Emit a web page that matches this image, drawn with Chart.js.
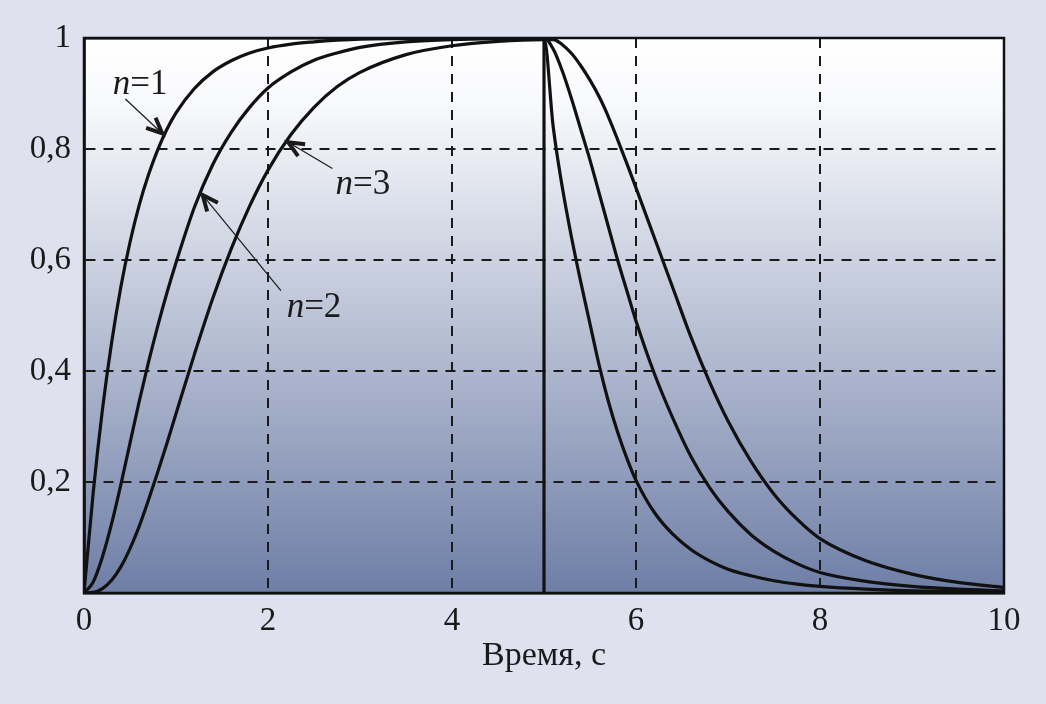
<!DOCTYPE html>
<html>
<head>
  <meta charset="UTF-8">
  <title>Время, с</title>
  <script src="https://cdn.jsdelivr.net/npm/chart.js"></script>
  <style>
    html, body {
      margin: 0;
      padding: 0;
      background: #dfe2ee;
    }
    #wrap {
      width: 1046px;
      height: 704px;
    }
  </style>
</head>
<body>
  <div id="wrap"><canvas id="graph"></canvas></div>

  <script>
    // temps (s)
    const temps = [0, 0.1, 0.2, 0.3, 0.4, 0.5, 0.6, 0.7, 0.8, 0.9, 1.0, 1.2, 1.4, 1.6, 1.8, 2.0, 2.25, 2.5, 2.75, 3.0, 3.5, 4.0, 4.5, 5.0,
                   5.1, 5.2, 5.3, 5.4, 5.5, 5.6, 5.7, 5.8, 5.9, 6.0, 6.2, 6.4, 6.6, 6.8, 7.0, 7.25, 7.5, 7.75, 8.0, 8.5, 9.0, 9.5, 10];

    // réponses
    const n1 = [0, 0.181, 0.33, 0.451, 0.551, 0.632, 0.699, 0.753, 0.798, 0.835, 0.865, 0.909, 0.939, 0.959, 0.973, 0.982, 0.989, 0.993, 0.996, 0.998, 0.999, 1, 1, 1,
                0.84, 0.73, 0.64, 0.56, 0.485, 0.41, 0.345, 0.29, 0.243, 0.203, 0.145, 0.106, 0.078, 0.058, 0.043, 0.031, 0.022, 0.016, 0.012, 0.007, 0.004, 0.003, 0.002];
    const n2 = [0, 0.02, 0.065, 0.125, 0.195, 0.27, 0.345, 0.415, 0.48, 0.54, 0.595, 0.695, 0.772, 0.83, 0.875, 0.91, 0.939, 0.96, 0.973, 0.983, 0.993, 0.997, 0.999, 1,
                0.98, 0.94, 0.89, 0.835, 0.78, 0.72, 0.66, 0.60, 0.545, 0.49, 0.395, 0.315, 0.245, 0.19, 0.147, 0.105, 0.075, 0.053, 0.037, 0.021, 0.012, 0.007, 0.004];
    const n3 = [0, 0.001, 0.008, 0.023, 0.047, 0.08, 0.12, 0.167, 0.217, 0.269, 0.323, 0.43, 0.531, 0.62, 0.697, 0.762, 0.826, 0.875, 0.912, 0.938, 0.97, 0.986, 0.994, 0.997,
                0.997, 0.988, 0.972, 0.95, 0.924, 0.894, 0.858, 0.817, 0.774, 0.73, 0.64, 0.55, 0.46, 0.38, 0.31, 0.237, 0.178, 0.133, 0.098, 0.058, 0.034, 0.019, 0.01];

    // impulsion d'entrée
    const impulsT = [0, 0, 5, 5];
    const impulsV = [0, 1, 1, 0];

    const xTicks = ['0', '2', '4', '6', '8', '10'];
    const yTicks = ['', '0,2', '0,4', '0,6', '0,8', '1'];

    const etiquettes = [
      { n: '1', tx: 0.61, ty: 0.915, de: [0.45, 0.89], vers: [0.85, 0.828] },
      { n: '2', tx: 2.5, ty: 0.513, de: [2.14, 0.545], vers: [1.29, 0.717] },
      { n: '3', tx: 3.03, ty: 0.735, de: [2.70, 0.765], vers: [2.22, 0.812] }
    ];

    const points = (xs, ys) => xs.map((x, i) => ({ x: x, y: ys[i] }));

    const fond = {
      id: 'fond',
      beforeDraw(chart) {
        const { ctx, chartArea: a } = chart;
        ctx.save();
        ctx.fillStyle = '#dfe2ee';
        ctx.fillRect(0, 0, chart.width, chart.height);
        const g = ctx.createLinearGradient(0, a.top, 0, a.bottom);
        g.addColorStop(0, '#ffffff');
        g.addColorStop(0.12, '#f8f9fc');
        g.addColorStop(1, '#6e7ea6');
        ctx.fillStyle = g;
        ctx.fillRect(a.left, a.top, a.right - a.left, a.bottom - a.top);
        ctx.restore();
      }
    };

    const cadre = {
      id: 'cadre',
      afterDraw(chart) {
        const { ctx, chartArea: a, scales } = chart;
        ctx.save();
        ctx.strokeStyle = '#111';
        ctx.lineWidth = 2.5;
        ctx.strokeRect(a.left, a.top, a.right - a.left, a.bottom - a.top);

        // flèches + n=...
        for (const e of etiquettes) {
          const x0 = scales.x.getPixelForValue(e.de[0]);
          const y0 = scales.y.getPixelForValue(e.de[1]);
          const x1 = scales.x.getPixelForValue(e.vers[0]);
          const y1 = scales.y.getPixelForValue(e.vers[1]);
          ctx.strokeStyle = '#1a1a1a';
          ctx.lineWidth = 1.2;
          ctx.beginPath();
          ctx.moveTo(x0, y0);
          ctx.lineTo(x1, y1);
          ctx.stroke();
          const ang = Math.atan2(y1 - y0, x1 - x0);
          ctx.lineWidth = 4;
          ctx.lineCap = 'butt';
          ctx.lineJoin = 'miter';
          ctx.beginPath();
          ctx.moveTo(x1 - 17 * Math.cos(ang - 0.42), y1 - 17 * Math.sin(ang - 0.42));
          ctx.lineTo(x1, y1);
          ctx.lineTo(x1 - 17 * Math.cos(ang + 0.42), y1 - 17 * Math.sin(ang + 0.42));
          ctx.stroke();

          const tx = scales.x.getPixelForValue(e.tx);
          const ty = scales.y.getPixelForValue(e.ty);
          ctx.fillStyle = '#1a1a1a';
          ctx.textBaseline = 'middle';
          ctx.textAlign = 'left';
          ctx.font = 'italic 35px "Liberation Serif"';
          const wN = ctx.measureText('n').width;
          ctx.font = '35px "Liberation Serif"';
          const wR = ctx.measureText('=' + e.n).width;
          const start = tx - (wN + wR) / 2;
          ctx.font = 'italic 35px "Liberation Serif"';
          ctx.fillText('n', start, ty);
          ctx.font = '35px "Liberation Serif"';
          ctx.fillText('=' + e.n, start + wN, ty);
        }
        ctx.restore();
      }
    };

    const ligne = (label, xs, ys, tension) => ({
      label: label,
      data: points(xs, ys),
      borderColor: '#111',
      borderWidth: 3.2,
      pointRadius: 0,
      fill: false,
      tension: tension,
      cubicInterpolationMode: tension ? 'monotone' : 'default'
    });

    new Chart(document.getElementById('graph'), {
      type: 'line',
      data: {
        datasets: [
          ligne('n=1', temps, n1, 0.4),
          ligne('n=2', temps, n2, 0.4),
          ligne('n=3', temps, n3, 0.4),
          ligne('entrée', impulsT, impulsV, 0)
        ]
      },
      options: {
        responsive: true,
        maintainAspectRatio: false,
        animation: false,
        layout: { padding: { left: 0, right: 42, top: 38, bottom: 0 } },
        plugins: {
          legend: { display: false },
          tooltip: { enabled: false }
        },
        scales: {
          x: {
            type: 'linear',
            min: 0,
            max: 10,
            afterFit: s => { s.height = 111; },
            ticks: {
              stepSize: 2,
              padding: 9,
              color: '#1a1a1a',
              font: { family: 'Liberation Serif', size: 33 },
              callback: (v, i) => xTicks[i]
            },
            grid: { color: '#1a1a1a', lineWidth: 2, drawTicks: false },
            border: { display: true, color: '#111', width: 2.5, dash: [10, 8] },
            title: {
              display: true,
              text: 'Время, с',
              color: '#1a1a1a',
              font: { family: 'Liberation Serif', size: 34 },
              padding: { top: 0, bottom: 28 }
            }
          },
          y: {
            min: 0,
            max: 1,
            afterFit: s => { s.width = 84; },
            ticks: {
              stepSize: 0.2,
              padding: 13,
              color: '#1a1a1a',
              font: { family: 'Liberation Serif', size: 33 },
              callback: (v, i) => yTicks[i]
            },
            grid: { color: '#1a1a1a', lineWidth: 2, drawTicks: false },
            border: { display: true, color: '#111', width: 2.5, dash: [10, 8] }
          }
        }
      },
      plugins: [fond, cadre]
    });
  </script>
</body>
</html>
